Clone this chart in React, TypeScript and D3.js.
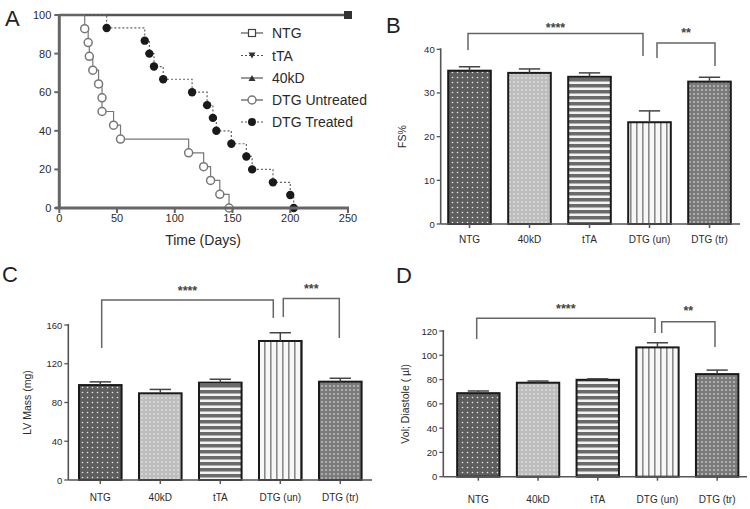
import React from "react";
import * as d3 from "d3";

// ---------- DATA ----------
const kmLegend = ["NTG", "tTA", "40kD", "DTG Untreated", "DTG Treated"];
const untreatedDays = [22, 25, 26, 29, 34, 37, 37, 47, 53, 112, 125, 131, 139, 147];
const untreatedSurv = [92.9, 85.7, 78.6, 71.4, 64.3, 57.1, 50, 42.9, 35.7, 28.6, 21.4, 14.3, 7.1, 0];
const treatedDays = [41, 74, 78, 82, 90, 115, 128, 133, 136, 149, 162, 167, 185, 200, 203];
const treatedSurv = [93.3, 86.7, 80, 73.3, 66.7, 60, 53.3, 46.7, 40, 33.3, 26.7, 20, 13.3, 6.7, 0];
const controlDays = [0, 250];
const controlSurv = [100, 100];
const kmXTicks = [0, 50, 100, 150, 200, 250];
const kmYTicks = [0, 20, 40, 60, 80, 100];

const categories = ["NTG", "40kD", "tTA", "DTG (un)", "DTG (tr)"];
const fsMean = [35.1, 34.6, 33.7, 23.3, 32.6];
const fsErr = [0.9, 0.9, 0.9, 2.6, 1.0];
const lvMean = [98, 89.5, 100.5, 143.5, 101.5];
const lvErr = [3.3, 4, 3.5, 8.5, 3.5];
const volMean = [68.8, 77.4, 79.8, 106.5, 84.5];
const volErr = [1.8, 1.4, 0.8, 3.8, 3.3];
const fsTicks = [0, 10, 20, 30, 40];
const lvTicks = [0, 40, 80, 120, 160];
const volTicks = [0, 20, 40, 60, 80, 100, 120];

const FONT = "Liberation Sans, Arial, Helvetica, sans-serif";
const AX = "#555";
const TXT = "#2a2a2a";

const fills = ["url(#dotsDark)", "url(#dotsLight)", "url(#hStripe)", "url(#vStripe)", "url(#dotsMid)"];

function Patterns() {
  return (
    <defs>
      <pattern id="dotsDark" width="5" height="5" patternUnits="userSpaceOnUse">
        <rect width="5" height="5" fill="#5e5e5e" />
        <circle cx="2.5" cy="2.5" r="0.8" fill="#e8e8e8" />
      </pattern>
      <pattern id="dotsLight" width="4" height="4" patternUnits="userSpaceOnUse">
        <rect width="4" height="4" fill="#bdbdbd" />
        <circle cx="2" cy="2" r="0.8" fill="#f4f4f4" />
      </pattern>
      <pattern id="dotsMid" width="4" height="4" patternUnits="userSpaceOnUse">
        <rect width="4" height="4" fill="#7a7a7a" />
        <circle cx="2" cy="2" r="0.8" fill="#eeeeee" />
      </pattern>
      <pattern id="hStripe" width="6" height="6" patternUnits="userSpaceOnUse">
        <rect width="6" height="6" fill="#f2f2f2" />
        <rect y="0" width="6" height="3.5" fill="#6a6a6a" />
      </pattern>
      <pattern id="vStripe" width="6" height="6" patternUnits="userSpaceOnUse">
        <rect width="6" height="6" fill="#f7f7f7" />
        <rect x="0" width="1.6" height="6" fill="#8a8a8a" />
      </pattern>
    </defs>
  );
}

type Bracket = { a: number; b: number; y: number; la: number; lb: number; label: string; ty: number };

function BarPanel(props: {
  letter: string; lx: number; ly: number;
  axisX: number; axisEnd: number; x0: number; step: number;
  y0: number; y1: number; ymax: number; ticks: number[];
  means: number[]; errs: number[]; ylabel: string; ylx: number; labelY: number;
  brackets: Bracket[];
}) {
  const p = props;
  const x = d3.scaleBand<string>().domain(categories)
    .range([p.x0, p.x0 + p.step * categories.length]).paddingInner(0.29).paddingOuter(0.145);
  const y = d3.scaleLinear().domain([0, p.ymax]).range([p.y0, p.y1]);
  const bw = x.bandwidth();
  return (
    <g fontFamily={FONT}>
      <text x={p.lx} y={p.ly} fontSize={22} fill="#222">{p.letter}</text>
      {categories.map((c, i) => {
        const bx = x(c)!;
        const top = y(p.means[i]);
        const et = y(p.means[i] + p.errs[i]);
        const cx = bx + bw / 2;
        return (
          <g key={c}>
            <rect x={bx} y={top} width={bw} height={p.y0 - top} fill={fills[i]} stroke="#1a1a1a" strokeWidth={2} />
            <line x1={cx} x2={cx} y1={top} y2={et} stroke="#444" strokeWidth={1.5} />
            <line x1={cx - bw * 0.25} x2={cx + bw * 0.25} y1={et} y2={et} stroke="#444" strokeWidth={1.5} />
            <line x1={cx} x2={cx} y1={p.y0} y2={p.y0 + 4} stroke={AX} strokeWidth={1.5} />
            <text x={cx} y={p.labelY} fontSize={10} textAnchor="middle" fill={TXT}>{c}</text>
          </g>
        );
      })}
      <line x1={p.axisX} x2={p.axisX} y1={p.y1 - 1} y2={p.y0} stroke={AX} strokeWidth={1.6} />
      <line x1={p.axisX} x2={p.axisEnd} y1={p.y0} y2={p.y0} stroke={AX} strokeWidth={1.6} />
      {p.ticks.map((t) => (
        <g key={t}>
          <line x1={p.axisX - 4} x2={p.axisX} y1={y(t)} y2={y(t)} stroke={AX} strokeWidth={1.3} />
          <text x={p.axisX - 6} y={y(t) + 3.5} fontSize={9.5} textAnchor="end" fill={TXT}>{t}</text>
        </g>
      ))}
      <text transform={`translate(${p.ylx},${(p.y0 + p.y1) / 2}) rotate(-90)`} fontSize={10.5}
        textAnchor="middle" fill={TXT}>{p.ylabel}</text>
      {p.brackets.map((b, i) => (
        <g key={i}>
          <path d={`M${b.a},${b.la}V${b.y}H${b.b}V${b.lb}`} fill="none" stroke="#666" strokeWidth={1.5} />
          <text x={(b.a + b.b) / 2} y={b.ty} fontSize={12.5} fontWeight="bold" textAnchor="middle" fill="#444">{b.label}</text>
        </g>
      ))}
    </g>
  );
}

function KMPanel() {
  const x = d3.scaleLinear().domain([0, 250]).range([59.3, 348]);
  const y = d3.scaleLinear().domain([0, 100]).range([208, 15]);
  const line = d3.line<[number, number]>().x((d) => x(d[0])).y((d) => y(d[1])).curve(d3.curveStepAfter);
  const unPts: [number, number][] = [[0, 100], ...untreatedDays.map((d, i) => [d, untreatedSurv[i]] as [number, number])];
  const trPts: [number, number][] = [[0, 100], ...treatedDays.map((d, i) => [d, treatedSurv[i]] as [number, number])];
  const ctrlPts: [number, number][] = controlDays.map((d, i) => [d, controlSurv[i]] as [number, number]);
  const legY = [33, 55.5, 78, 100, 122];
  const marker = (i: number, cx: number, cy: number) => {
    if (i === 0) return <rect x={cx - 3.5} y={cy - 3.5} width={7} height={7} fill="#fff" stroke="#444" strokeWidth={1.2} />;
    if (i === 1) return <path d={`M${cx - 3.5},${cy - 3}L${cx + 3.5},${cy - 3}L${cx},${cy + 3}Z`} fill="#333" />;
    if (i === 2) return <path d={`M${cx - 3.5},${cy + 3}L${cx + 3.5},${cy + 3}L${cx},${cy - 3}Z`} fill="#333" />;
    if (i === 3) return <circle cx={cx} cy={cy} r={4} fill="#fff" stroke="#777" strokeWidth={1.5} />;
    return <circle cx={cx} cy={cy} r={4} fill="#1a1a1a" />;
  };
  return (
    <g fontFamily={FONT}>
      <text x={5} y={26} fontSize={22} fill="#222">A</text>
      <path d={line(ctrlPts)!} fill="none" stroke="#555" strokeWidth={2.5} />
      <rect x={x(250) - 4} y={y(100) - 4} width={8} height={8} fill="#333" />
      <path d={line(unPts)!} fill="none" stroke="#777" strokeWidth={1.2} />
      <path d={line(trPts)!} fill="none" stroke="#666" strokeWidth={1.2} strokeDasharray="2,2" />
      {untreatedDays.map((d, i) => (
        <circle key={"u" + i} cx={x(d)} cy={y(untreatedSurv[i])} r={4} fill="#fff" stroke="#777" strokeWidth={1.5} />
      ))}
      {treatedDays.map((d, i) => (
        <circle key={"t" + i} cx={x(d)} cy={y(treatedSurv[i])} r={4.2} fill="#1a1a1a" />
      ))}
      <line x1={x(0)} x2={x(0)} y1={y(100) - 1} y2={y(0)} stroke="#666" strokeWidth={3} />
      <line x1={x(0) - 4} x2={x(250) + 1} y1={y(0)} y2={y(0)} stroke="#666" strokeWidth={3} />
      {kmYTicks.map((t) => (
        <g key={t}>
          <line x1={x(0) - 5} x2={x(0)} y1={y(t)} y2={y(t)} stroke="#666" strokeWidth={2} />
          <text x={x(0) - 8} y={y(t) + 4} fontSize={11} textAnchor="end" fill={TXT}>{t}</text>
        </g>
      ))}
      {kmXTicks.map((t) => (
        <g key={t}>
          <line x1={x(t)} x2={x(t)} y1={y(0)} y2={y(0) + 5} stroke="#666" strokeWidth={2} />
          <text x={x(t)} y={222} fontSize={11} textAnchor="middle" fill={TXT}>{t}</text>
        </g>
      ))}
      <text x={203} y={245} fontSize={14} textAnchor="middle" fill={TXT}>Time (Days)</text>
      {kmLegend.map((s, i) => (
        <g key={s}>
          <line x1={241} x2={263} y1={legY[i]} y2={legY[i]} stroke="#555" strokeWidth={1.2}
            strokeDasharray={i === 1 || i === 4 ? "2,2" : undefined} />
          {marker(i, 252, legY[i])}
          <text x={272} y={legY[i] + 5} fontSize={14} fill={TXT}>{s}</text>
        </g>
      ))}
    </g>
  );
}

export default function App() {
  return (
    <svg width={750} height={509} style={{ position: "absolute", left: 0, top: 0, background: "#fff" }}>
      <Patterns />
      <rect width={750} height={509} fill="#fff" />
      <KMPanel />
      <BarPanel letter="B" lx={386} ly={33} axisX={440.7} axisEnd={740} x0={439.5} step={60}
        y0={224} y1={49.3} ymax={40} ticks={fsTicks} means={fsMean} errs={fsErr}
        ylabel="FS%" ylx={406} labelY={243}
        brackets={[
          { a: 468, b: 643, y: 33.5, la: 50, lb: 56, label: "****", ty: 32 },
          { a: 657, b: 715, y: 43, la: 58, lb: 66, label: "**", ty: 37 },
        ]} />
      <BarPanel letter="C" lx={2} ly={282} axisX={68.3} axisEnd={372} x0={70.3} step={60}
        y0={480} y1={325} ymax={160} ticks={lvTicks} means={lvMean} errs={lvErr}
        ylabel="LV Mass (mg)" ylx={31} labelY={501}
        brackets={[
          { a: 101.7, b: 273.3, y: 300, la: 348, lb: 318, label: "****", ty: 295 },
          { a: 283.3, b: 339.3, y: 298.5, la: 317, lb: 338, label: "***", ty: 293 },
        ]} />
      <BarPanel letter="D" lx={396} ly={283} axisX={443.3} axisEnd={747} x0={448.5} step={59.7}
        y0={476.7} y1={331} ymax={120} ticks={volTicks} means={volMean} errs={volErr}
        ylabel="Vol; Diastole ( µl)" ylx={409} labelY={503}
        brackets={[
          { a: 476.7, b: 655, y: 318.3, la: 339, lb: 333, label: "****", ty: 313 },
          { a: 661.7, b: 715, y: 321.7, la: 333, lb: 347, label: "**", ty: 315 },
        ]} />
    </svg>
  );
}
